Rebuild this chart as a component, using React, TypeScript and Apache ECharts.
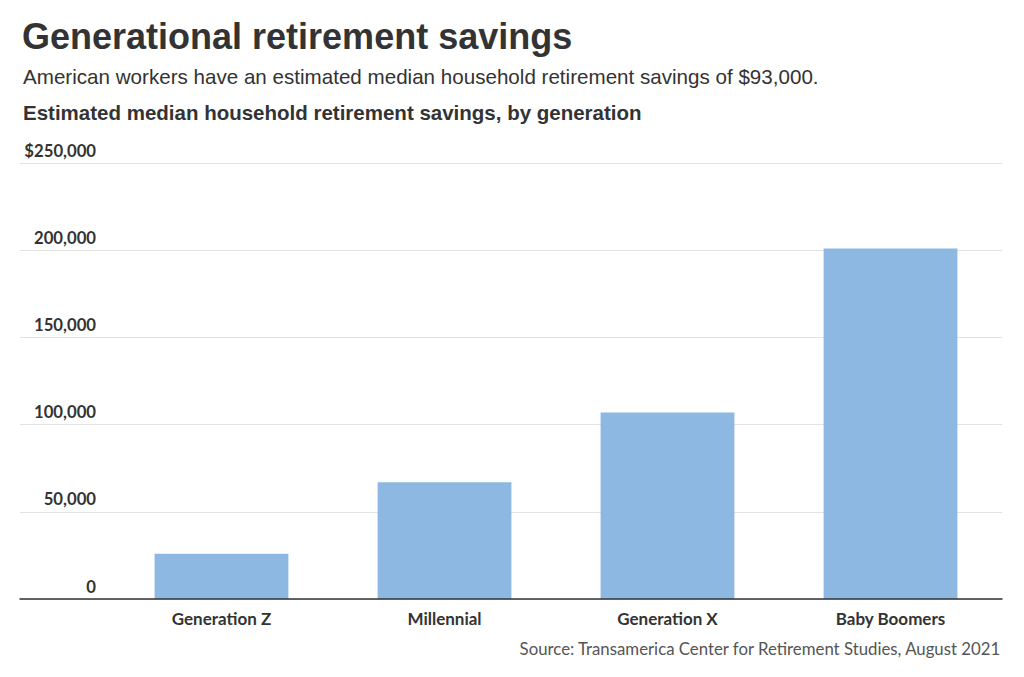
import React, { useEffect, useRef } from "react";
import * as echarts from "echarts";

const categories = ["Generation Z", "Millennial", "Generation X", "Baby Boomers"];
const savings = [26000, 67000, 107000, 201000];
const yTicks = { min: 0, max: 250000, interval: 50000 };

const titleText = "Generational retirement savings";
const subtitleText = "American workers have an estimated median household retirement savings of $93,000.";
const chartTitleText = "Estimated median household retirement savings, by generation";
const sourceText = "Source: Transamerica Center for Retirement Studies, August 2021";

function fmt(v: number) {
  const s = v.toLocaleString("en-US");
  return v === yTicks.max ? "$" + s : s;
}

export default function App() {
  const ref = useRef<HTMLDivElement>(null);
  useEffect(() => {
    document.body.style.margin = "0";
    const chart = echarts.init(ref.current!, undefined, { renderer: "svg" });
    const top = 163;
    const bottom = 78;
    chart.setOption({
      animation: false,
      backgroundColor: "#ffffff",
      title: [
        {
          text: titleText,
          left: 17,
          top: 13,
          textStyle: { fontFamily: "Liberation Sans, Arial, sans-serif", fontWeight: "bold", fontSize: 36, color: "#333333" },
        },
        {
          text: subtitleText,
          left: 18,
          top: 61,
          textStyle: { fontFamily: "Liberation Sans, Arial, sans-serif", fontWeight: "normal", fontSize: 20.6, color: "#333333" },
        },
        {
          text: chartTitleText,
          left: 18,
          top: 97,
          textStyle: { fontFamily: "Liberation Sans, Arial, sans-serif", fontWeight: "bold", fontSize: 20.5, color: "#333333" },
        },
        {
          text: sourceText,
          right: 17,
          top: 635,
          textStyle: { fontFamily: "Lato, sans-serif", fontWeight: "normal", fontSize: 16.8, color: "#555555" },
        },
      ],
      grid: [
        { left: 20, right: 22, top, bottom, containLabel: false },
        { left: 110, right: 22, top, bottom, containLabel: false },
      ],
      xAxis: [
        {
          gridIndex: 0,
          type: "value",
          min: 0,
          max: 1,
          z: 5,
          axisLine: { show: true, lineStyle: { color: "#333333", width: 1.5 } },
          axisTick: { show: false },
          axisLabel: { show: false },
          splitLine: { show: false },
        },
        {
          gridIndex: 1,
          type: "category",
          data: categories,
          axisLine: { show: false },
          axisTick: { show: false },
          axisLabel: {
            margin: 11,
            fontFamily: "Lato, sans-serif",
            fontWeight: "bold",
            fontSize: 17,
            color: "#333333",
          },
        },
      ],
      yAxis: [
        {
          gridIndex: 0,
          type: "value",
          min: yTicks.min,
          max: yTicks.max,
          interval: yTicks.interval,
          axisLine: { show: false },
          axisTick: { show: false },
          splitLine: { show: true, lineStyle: { color: "#e3e3e3", width: 1 } },
          axisLabel: {
            inside: true,
            margin: 76,
            align: "right",
            verticalAlign: "bottom",
            padding: [0, 0, 4, 0],
            formatter: (v: number) => fmt(v),
            fontFamily: "Lato, sans-serif",
            fontWeight: "bold",
            fontSize: 16.7,
            color: "#333333",
          },
        },
        {
          gridIndex: 1,
          type: "value",
          min: yTicks.min,
          max: yTicks.max,
          interval: yTicks.interval,
          show: false,
          splitLine: { show: false },
        },
      ],
      series: [
        {
          type: "bar",
          xAxisIndex: 1,
          yAxisIndex: 1,
          data: savings,
          barWidth: "60%",
          itemStyle: { color: "#8cb8e2" },
          z: 2,
        },
      ],
    });
    return () => chart.dispose();
  }, []);
  return <div ref={ref} style={{ width: 1024, height: 677 }} />;
}
